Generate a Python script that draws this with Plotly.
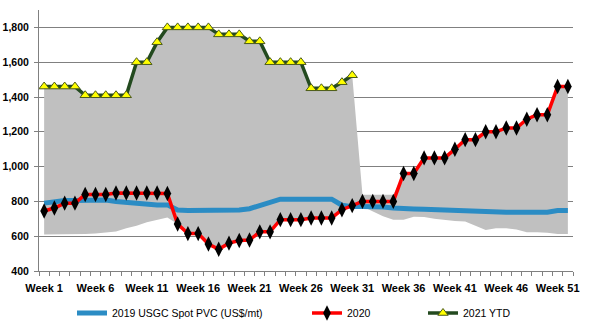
import plotly.graph_objects as go

weeks = list(range(1, 53))
week_labels = [f"Week {w}" for w in weeks]
tick_weeks = [1, 6, 11, 16, 21, 26, 31, 36, 41, 46, 51]

pvc_2019 = [790, 800, 805, 805, 805, 805, 808, 800, 795, 790, 782, 780, 780, 750,
            748, 748, 748, 748, 748, 750, 758, 775, 795, 813, 813, 813, 813, 813,
            813, 778, 770, 770, 770, 768, 762, 757, 757, 755, 752, 748, 748, 748,
            745, 738, 737, 737, 737, 737, 737, 738, 747, 747]

pvc_2020 = [745, 762, 790, 790, 840, 840, 840, 848, 848, 848, 848, 848, 845, 670,
            615, 615, 555, 525, 560, 575, 578, 625, 625, 695, 695, 695, 705, 705,
            705, 752, 776, 800, 800, 800, 800, 960, 960, 1050, 1050, 1050, 1100, 1155,
            1155, 1200, 1200, 1222, 1222, 1272, 1298, 1298, 1460, 1460]

pvc_2021 = [1460, 1460, 1460, 1460, 1410, 1410, 1410, 1410, 1410, 1600, 1600, 1715,
            1800, 1800, 1800, 1800, 1800, 1760, 1760, 1760, 1720, 1720, 1600, 1600,
            1600, 1600, 1450, 1450, 1450, 1485, 1525]

range_high = [1460, 1460, 1460, 1460, 1410, 1410, 1410, 1410, 1410, 1600, 1600, 1715,
              1800, 1800, 1800, 1800, 1800, 1760, 1760, 1760, 1720, 1720, 1600, 1600,
              1600, 1600, 1450, 1450, 1450, 1485, 1525, 838, 838, 838, 838, 960,
              960, 1050, 1050, 1050, 1100, 1155, 1155, 1200, 1200, 1222, 1222, 1272,
              1298, 1298, 1460, 1460]

range_low = [610, 610, 610, 610, 612, 615, 620, 627, 645, 660, 680, 693, 707, 670,
             615, 615, 555, 525, 560, 575, 578, 625, 625, 695, 695, 695, 705, 705,
             705, 752, 770, 770, 742, 715, 694, 694, 712, 710, 700, 692, 688, 684,
             662, 636, 646, 646, 638, 623, 622, 620, 613, 613]

FONT = "Liberation Sans Narrow, Arial Narrow, Liberation Sans, Arial, sans-serif"

fig = go.Figure()
fig.add_trace(go.Scatter(x=weeks, y=range_low, mode="lines", line=dict(width=0),
                         showlegend=False, hoverinfo="skip"))
fig.add_trace(go.Scatter(x=weeks, y=range_high, mode="lines", line=dict(width=0),
                         fill="tonexty", fillcolor="#c0c0c0", showlegend=False,
                         hoverinfo="skip"))
fig.add_trace(go.Scatter(x=weeks, y=pvc_2019, mode="lines", name="2019 USGC Spot PVC (US$/mt)",
                         line=dict(color="#2b8cc4", width=5), legend="legend"))
fig.add_trace(go.Scatter(x=weeks, y=pvc_2020, mode="lines+markers", name="2020",
                         line=dict(color="#ff0000", width=3.5),
                         marker=dict(symbol="diamond-tall", size=11, color="#000000",
                                     line=dict(width=0)), legend="legend2"))
fig.add_trace(go.Scatter(x=weeks[:len(pvc_2021)], y=pvc_2021, mode="lines+markers", name="2021 YTD",
                         line=dict(color="#234a1f", width=3.5),
                         marker=dict(symbol="triangle-up", size=9, color="#ffff00",
                                     line=dict(color="#4a5a1a", width=1)), legend="legend3"))

leg_common = dict(orientation="h", xref="container", yref="container",
                  yanchor="middle", xanchor="left",
                  font=dict(family=FONT, size=10.5, color="#000000"),
                  bgcolor="rgba(0,0,0,0)", itemwidth=30)
fig.update_layout(
    width=593, height=327,
    margin=dict(l=39, r=20, t=10, b=56, autoexpand=False),
    paper_bgcolor="white", plot_bgcolor="white",
    font=dict(family=FONT, size=11, color="#000000"),
    legend=dict(x=72 / 593, y=1 - 313 / 327, **leg_common),
    legend2=dict(x=307 / 593, y=1 - 313 / 327, **leg_common),
    legend3=dict(x=423 / 593, y=1 - 313 / 327, **leg_common),
    xaxis=dict(range=[0.5, 52.5], tickmode="array", tickvals=tick_weeks,
               ticktext=[week_labels[w - 1] for w in tick_weeks],
               ticks="", showgrid=False, zeroline=False, ticklabelstandoff=7,
               showline=True, linecolor="#808080", linewidth=1, automargin=False,
               tickfont=dict(family=FONT, size=11, color="#000000", weight="bold"),
               minor=dict(ticks="outside", tickmode="linear", tick0=0.5, dtick=1,
                          ticklen=4, tickcolor="#808080", showgrid=False)),
    yaxis=dict(range=[400, 1900], tick0=400, dtick=200, tickformat=",",
               ticks="outside", ticklen=4, tickcolor="#808080", ticklabelstandoff=3,
               showgrid=True, gridcolor="#808080", gridwidth=1, zeroline=False,
               showline=True, linecolor="#808080", linewidth=1, automargin=False,
               tickfont=dict(family=FONT, size=10.5, color="#000000", weight="bold")),
)

fig.write_html("out.html")
